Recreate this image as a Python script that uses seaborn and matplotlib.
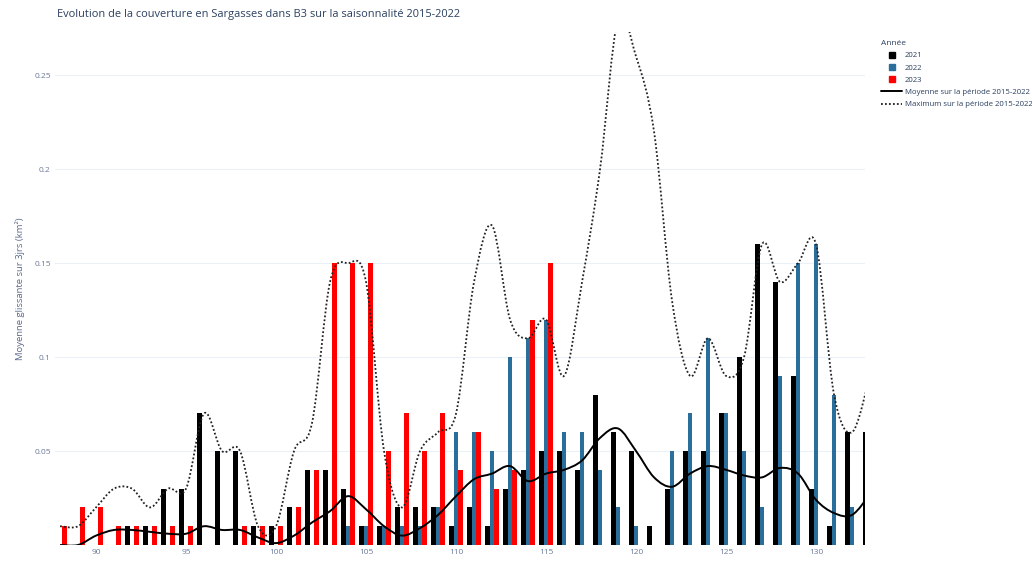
import numpy as np
import pandas as pd
import matplotlib
matplotlib.use("Agg")
import matplotlib.pyplot as plt
import seaborn as sns
from matplotlib.path import Path
from matplotlib.patches import PathPatch
from matplotlib.lines import Line2D

# ---------------- data ----------------
days = list(range(88, 134))
v2021 = [0, 0, 0, 0, 0.01, 0.01, 0.03, 0.03, 0.07, 0.05, 0.05, 0.01, 0.01, 0.02, 0.04, 0.04,
         0.03, 0.01, 0.01, 0.02, 0.02, 0.02, 0.01, 0.02, 0.01, 0.03, 0.04, 0.05, 0.05, 0.04,
         0.08, 0.06, 0.05, 0.01, 0.03, 0.05, 0.05, 0.07, 0.10, 0.16, 0.14, 0.09, 0.03, 0.01,
         0.06, 0.06]
v2022 = [None] * 16 + [0.01, 0.01, 0.01, 0.01, 0.01, 0.02, 0.06, 0.06, 0.05, 0.10, 0.11, 0.12,
                       0.06, 0.06, 0.04, 0.02, 0.01, None, 0.05, 0.07, 0.11, 0.07, 0.05, 0.02,
                       0.09, 0.15, 0.16, 0.08, 0.02, None]
v2023 = [0.01, 0.02, 0.02, 0.01, 0.01, 0.01, 0.01, 0.01, None, None, 0.01, 0.01, 0.01, 0.02,
         0.04, 0.15, 0.15, 0.15, 0.05, 0.07, 0.05, 0.07, 0.04, 0.06, 0.03, 0.04, 0.12, 0.15] + [None] * 18
mean_1522 = [0.0, 0.0, 0.005, 0.008, 0.008, 0.007, 0.006, 0.006, 0.010, 0.008, 0.008, 0.004,
             0.001, 0.005, 0.012, 0.018, 0.026, 0.019, 0.010, 0.005, 0.009, 0.016, 0.026, 0.035,
             0.038, 0.042, 0.034, 0.038, 0.040, 0.045, 0.057, 0.062, 0.050, 0.036, 0.031, 0.038,
             0.042, 0.040, 0.037, 0.036, 0.041, 0.038, 0.024, 0.017, 0.016, 0.027]
max_1522 = [0.01, 0.01, 0.02, 0.03, 0.03, 0.02, 0.03, 0.03, 0.07, 0.05, 0.05, 0.01, 0.01, 0.05,
            0.065, 0.14, 0.15, 0.14, 0.05, 0.02, 0.05, 0.06, 0.07, 0.14, 0.17, 0.12, 0.11, 0.12,
            0.09, 0.14, 0.20, 0.28, 0.26, 0.22, 0.13, 0.09, 0.11, 0.09, 0.10, 0.16, 0.14, 0.15,
            0.16, 0.08, 0.06, 0.09]
years = ["2021", "2022", "2023"]
colors = {"2021": "#000000", "2022": "#2a6f9c", "2023": "#ff0000"}
title = "Evolution de la couverture en Sargasses dans B3 sur la saisonnalité 2015-2022"
ylabel = "Moyenne glissante sur 3jrs (km²)"
mean_label = "Moyenne sur la période 2015-2022"
max_label = "Maximum sur la période 2015-2022"
xticks = [90, 95, 100, 105, 110, 115, 120, 125, 130]
yticks = [0.05, 0.1, 0.15, 0.2, 0.25]

# ---------------- figure ----------------
sns.set_theme(style="white")
plt.rcParams["font.family"] = ["Open Sans", "DejaVu Sans"]
TXT = "#2a3f5f"

df = pd.DataFrame({
    "day": days * 3,
    "val": v2021 + v2022 + v2023,
    "year": [y for y in years for _ in days],
}).dropna()
df["val"] = df["val"].astype(float)

W, H = 1032, 562
fig = plt.figure(figsize=(W / 100, H / 100), dpi=100)
ax = fig.add_axes([55 / W, 17 / H, 810 / W, 513 / H])

sns.barplot(data=df, x="day", y="val", hue="year", hue_order=years, palette=colors,
            native_scale=True, errorbar=None, saturation=1, width=0.8, dodge=True,
            linewidth=0, ax=ax, legend=False)


def smooth_path(x, y, k=1.0):
    pts = np.column_stack([np.asarray(x, float), np.asarray(y, float)])
    verts = [pts[0]]
    codes = [Path.MOVETO]
    n = len(pts)
    for i in range(n - 1):
        p0 = pts[max(i - 1, 0)]
        p1 = pts[i]
        p2 = pts[i + 1]
        p3 = pts[min(i + 2, n - 1)]
        verts += [p1 + (p2 - p0) / 6 * k, p2 - (p3 - p1) / 6 * k, p2]
        codes += [Path.CURVE4] * 3
    return Path(verts, codes)


ax.add_patch(PathPatch(smooth_path(days, mean_1522), facecolor="none", edgecolor="black",
                       lw=1.4, transform=ax.transData, zorder=5))
ax.add_patch(PathPatch(smooth_path(days, max_1522), facecolor="none", edgecolor="#222222",
                       lw=1.3, linestyle=(0, (1, 1.2)), transform=ax.transData, zorder=5))

ax.set_xlim(87.72, 132.72)
ax.set_ylim(0, 0.273)
ax.set_xticks(xticks)
ax.set_xticklabels([str(t) for t in xticks])
ax.set_yticks(yticks)
ax.set_yticklabels([f"{t:g}" for t in yticks])
ax.tick_params(axis="both", labelsize=6, colors=TXT, length=0, pad=3)
for lab in ax.get_xticklabels() + ax.get_yticklabels():
    lab.set_color("#6b7a99")
ax.grid(axis="y", color="#ebf0f8", lw=0.8)
ax.set_axisbelow(True)
for s in ax.spines.values():
    s.set_visible(False)
ax.set_xlabel("")
ax.set_ylabel(ylabel, fontsize=6.8, color="#5a6a8a", labelpad=7)

fig.text(57 / W, 1 - 14 / H, title, fontsize=7.9, color=TXT, va="center", ha="left")

handles = [Line2D([], [], marker="s", ls="none", color=colors[y], markersize=5) for y in years]
handles += [Line2D([], [], color="black", lw=1.4),
            Line2D([], [], color="#222222", lw=1.3, ls=(0, (1, 1.2)))]
labels = years + [mean_label, max_label]
leg = fig.legend(handles, labels, title="Année", loc="upper left",
                 bbox_to_anchor=(881 / W, 1 - 40 / H), frameon=False, fontsize=5.6,
                 title_fontsize=6, alignment="left", handlelength=2.7, handletextpad=0.35,
                 labelspacing=0.62, borderaxespad=0, borderpad=0)
for t in leg.get_texts():
    t.set_color(TXT)
leg.get_title().set_color(TXT)

fig.savefig("out.png", dpi=100)
